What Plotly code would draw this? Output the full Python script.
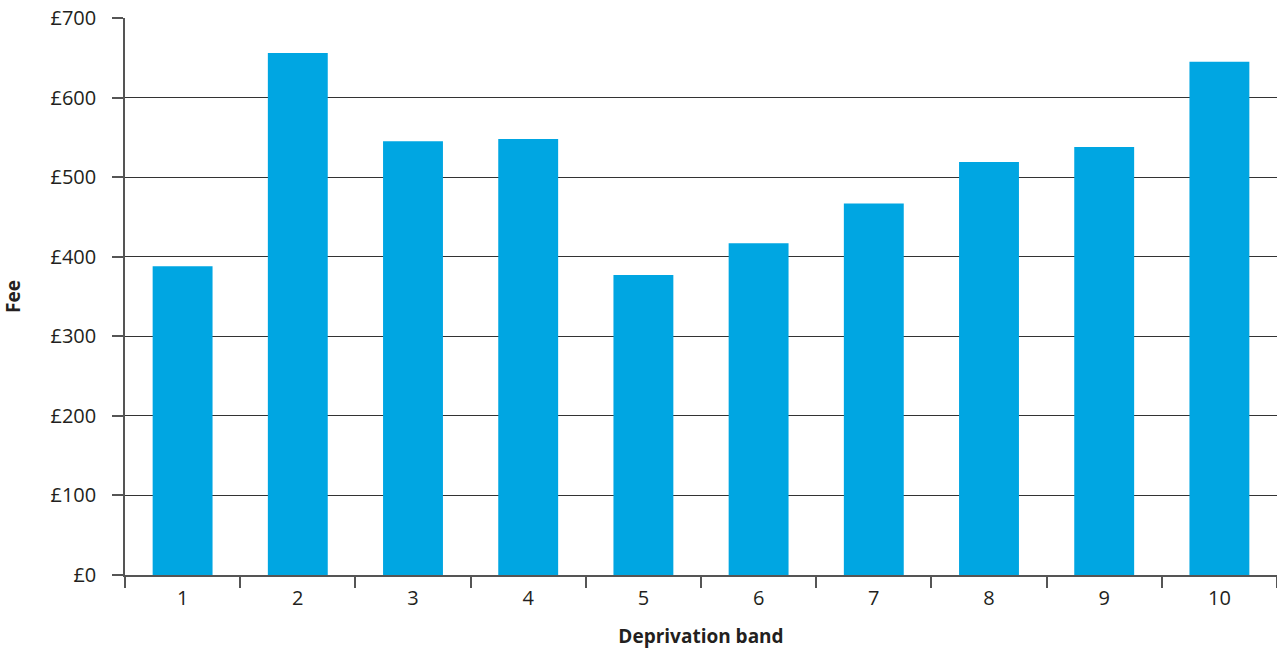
import plotly.graph_objects as go

bands = ["1", "2", "3", "4", "5", "6", "7", "8", "9", "10"]
fees = [388, 656, 545, 548, 377, 417, 467, 519, 538, 645]
y_ticks = [0, 100, 200, 300, 400, 500, 600, 700]

FONT = "Open Sans, Noto Sans, DejaVu Sans, sans-serif"
TXT = "#231F20"

fig = go.Figure(
    go.Bar(x=bands, y=fees, marker=dict(color="#00A6E2", line=dict(width=0)),
           hoverinfo="x+y")
)

fig.update_layout(
    width=1277, height=649,
    margin=dict(l=125, r=0, t=18, b=74),
    paper_bgcolor="white", plot_bgcolor="white",
    bargap=0.48,
    showlegend=False,
    font=dict(family=FONT, size=20, color=TXT),
)

fig.update_xaxes(
    type="category",
    automargin=False,
    tickson="boundaries",
    ticks="outside", ticklen=11, tickcolor="#555", tickwidth=1.5,
    showline=True, linecolor="#555", linewidth=1.5,
    showgrid=False,
    ticklabelstandoff=4,
    tickfont=dict(size=20, family=FONT, color=TXT),
    title=dict(text="<b>Deprivation band</b>", font=dict(size=19, family=FONT, color=TXT), standoff=23),
)

fig.update_yaxes(
    range=[0, 700],
    automargin=False,
    tickvals=y_ticks,
    ticktext=[f"£{v}" for v in y_ticks],
    ticks="outside", ticklen=11, tickcolor="#555", tickwidth=1.5,
    showline=True, linecolor="#555", linewidth=1.5,
    showgrid=True, gridcolor="#333", gridwidth=1,
    zeroline=False,
    ticklabelstandoff=12,
    ticklabeloverflow="allow",
    tickfont=dict(size=20, family=FONT, color=TXT),
    title=dict(text="<b>Fee</b>", font=dict(size=19, family=FONT, color=TXT), standoff=25),
)

fig.write_html("out.html", config={"displayModeBar": False},
               post_script="document.body.style.margin='0';")
